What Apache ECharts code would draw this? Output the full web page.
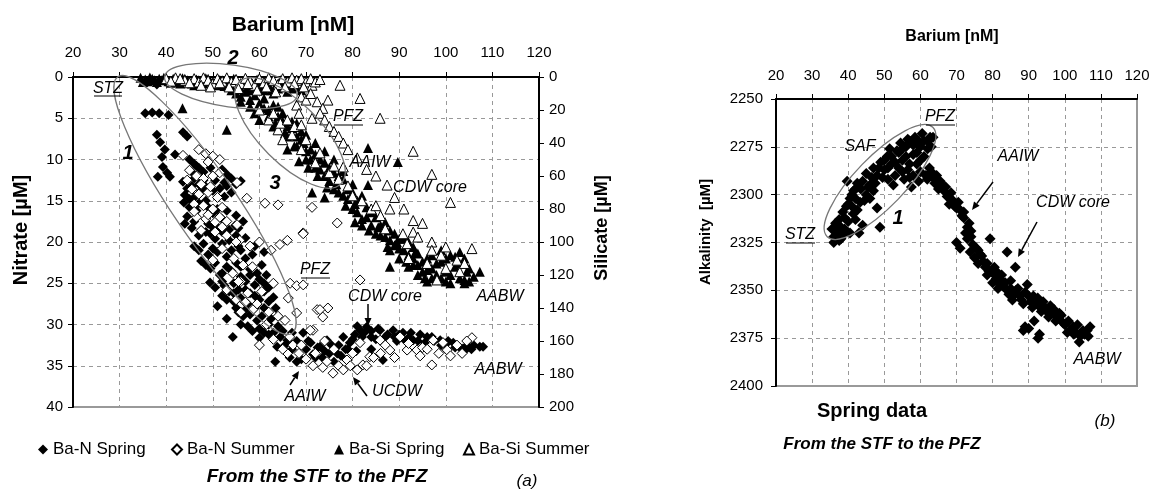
<!DOCTYPE html>
<html><head><meta charset="utf-8">
<script src="https://cdn.jsdelivr.net/npm/echarts@6/dist/echarts.min.js"></script>
<style>html,body{margin:0;padding:0;background:#fff}#c{width:1154px;height:491px}</style>
</head><body><div id="c"></div>
<script>
// ---------- DATA ----------
const baTicks = [20,30,40,50,60,70,80,90,100,110,120];
const seriesNames = ['Ba-N Spring','Ba-N Summer','Ba-Si Spring','Ba-Si Summer'];
// [Barium nM, Nitrate µM]
const baNSpring = [
[36,0.6],[38,0.9],[40,0.5],
[35.5,4.4],[37,4.3],[38.5,4.4],[40.5,4.6],
[43.6,6.7],[44.5,7.2],[38,7.0],[38.7,7.9],[39.7,8.8],[41.9,9.4],[39.1,9.7],[39.3,10.9],[40.2,11.6],[38.2,12.1],[40.8,12.1],
[45,10],[46,10.5],[47,11],[45.5,11.5],[52,11.2],[53,11.8],[54,12.3],[52.5,12.8],[43.6,12.7],[44.5,13.5],[45.5,13.2],[44,14.3],[46,14.6],[43.8,15.2],[45,15.8],[46.5,16.2],[44.5,16.9],[46,17.5],[47.5,13.8],[48.5,15],[50,16.5],[49,17.8],[51,18.2],[52,18.8],[53.5,18.5],[55,19.2],[49.5,19],[50.5,19.6],[54.8,18],[47.5,18.6],[56,12.6],[48,12.5],
[46.5,10.8],[48,11.5],[49.5,11],[50.5,12.5],[51.5,13.5],[53,13.2],[55,13],[46,12.3],[47,13],[48.5,13.3],[50,13.8],[52.5,14.5],[54,14],[45,14.8],[47,15.3],[49,15.8],[51,16],[53,16.2],[55,16.8],[56.5,17.5],[44,17.8],[45.5,18.3],[47,19.2],[48.5,18.8],[50,18.2],[52,17.2],[53.5,19.8],[55.5,18.3],[57,19.5],
[46,20.5],[48,20.2],[50,20.8],[52,20.2],[54,21],[55.5,20.5],[47.5,22.3],[49.5,23.2],[49.4,24.9],[51.5,24],[52.5,25.3],[53.5,26],[54.5,27.2],[55.5,28.5],[52,26.5],[51,27.8],[53,29.3],[56,24.2],[58,24],[60,24.5],[62,25.5],[57,25.8],[59,26.5],[61,26],[63,26.7],[57.5,27.5],[56.5,29],[58,28.8],[59.5,29.5],[61,28],[62.5,29.3],[64,30.2],[60,30.5],[57.5,30.2],[54.3,31.5],[60,31.6],[63.8,32.7],[63.4,34.5],[66,31.9],[62,31.2],[65,30.8],[55,22.5],[57,22],[53,23],[60.5,22.8],[58.5,21.5],
[47,21],[49,21.5],[51,21.2],[53,21.8],[56,21],[59,20.5],[61,21.2],[48.5,22.8],[50.5,22.5],[52,23.8],[54,23.5],[56,23],[58,23.3],[59.5,23.8],[61.5,24],[50.5,25.5],[52,24.8],[54.5,25],[55.5,25.8],[57,24.8],[59,25.2],[61,25],[53,27],[54.5,26.2],[56,26.8],[58,26.2],[60,27],[62,27.2],[63.5,28],[55,28],[57,28.2],[59,28],[60.5,29],[62,30],[63,31],[64.5,31.5],[61,31],[65.5,32.5],[58.5,30.8],[56,30],[67,33],[68,34.5],[66.5,34],
[67,31],[68,32],[69.4,31],[70,33],[71,32.2],[72,34],[73,32.7],[74.5,31.9],[75,33.5],[76.7,33.5],[77,32.5],[78,31.5],[79.4,32.2],[80.5,31.2],[81.6,30.7],[83,30.3],[84,30.8],[85.9,30.7],[86.5,34.3],[87.5,31.2],[88.7,30.7],[90,31.2],[90.8,31],[92,31.6],[93,31.9],[94.5,31.2],[96,31.5],[97.5,32],[98.8,31.9],[100,32.4],[101.6,32.2],[103,32.8],[103.7,32.9],[104.6,32.5],[105.5,33],[107.3,32.7],[69,34.2],[71.5,33.6],[82,31.5],[78.5,33],[85,31.8],[89.5,32],
[70.5,32],[72.5,32.8],[74,33.2],[75.5,32.5],[77.5,33.8],[79,33],[80,31.8],[81,30.2],[82.5,31],[84,31.5],[85.5,30.5],[87,31.5],[89,31.5],[91,31.8],[92.5,31],[94,32],[95.5,32.2],[97,31.5],[99,32.5],[100.5,32],[102,32.8],[104,33.2],[106,32.5],[108,32.7],[73.5,34],[76,34.5],[80.8,33.2],[84,33]
];
const baNSummer = [
[43.6,9.5],[47,8.8],[48.5,9.3],[50,9.6],[51.5,10],[49,10.3],
[45,11.3],[46.5,12],[48,12.3],[50,12],[51.5,11.6],[45.5,13.6],[47,14.2],[49,14],[51,14.6],[46,15.4],[48,15.6],[50,16],[52,15.8],[46.5,17],[48.5,17.2],[50.5,17.6],[52,18.2],[47.5,18.6],
[55.2,12.8],[57.3,14.7],[61.2,15.3],[64,15.5],[71.3,15.8],[76.7,17.7],[69.4,18.9],[55.2,17.9],
[50,22.2],[55.8,19.8],[58,20.5],[60,20],[62.5,21],[64.4,20.3],[66,19.8],[69.4,19],[63,25],[66.6,25],[68,25.3],[69.4,25.2],[66.2,26.8],[72.4,28.2],[74.7,28],[73.6,29.1],[54.3,23.8],[56,24.8],[57.5,26.2],[55,27],[58.6,28.2],[56,28.5],[68,28.6],[71.5,30.7],
[67.2,32.5],[68.5,33.5],[70,34.2],[71.5,35],[73.6,35.2],[75.8,35.9],[74.5,34.5],[66,33.5],
[73,28.2],[81.6,24.6],[70.9,30.7],[78.8,34.3],[81.6,32.2],[82.2,34.9],[83.7,33.9],[85.9,31.9],[88,33.1],[90.2,31.5],[91.7,33.1],[93.8,33.1],[97,34.9],[97.3,31.9],[100.3,33.1],[102.4,32.5],[105.6,31.6],[99.4,32.2],[77,35],[80,33.5],[87,32.5],[95,32.8],
[66.5,31.5],[69,32.5],[72,33.5],[74,32],[76,33],[78,35.5],[79.5,35],[81,35.5],[83,35],[84.5,34],[86,33.5],[89,34],[92,32.3],[94.5,33.8],[96,33],[98.5,33.5],[101,33.8],[103.5,33.5],[104.5,32],
[44.5,12.5],[47.5,13],[49.5,13.3],[46,16.3],[49,16.7],[51.5,17],[53,17.5],[50.5,18.8],[53,19.2],[55,20],[52,20.8],[54.5,22],[56.5,22.8],[58.5,23],[55.5,24.8],[53,25.8],[57,27.3],[59.5,27.5],[60.5,26],[62,28.5],[61.5,30],[64,29],[65.5,29.5],[63,31.8],[65,33],[60,32.5]
];
// [Barium nM, Silicate µM]
const baSiSpring = [
[34.5,0.5],[35.5,1.5],[36.5,0.3],[37.5,2],[38.5,1],[39.5,0.4],[40.5,2.5],[41.5,1],[42.5,3],[43.5,0.8],[44.5,2],[45.5,4],[46.5,1.5],[47.5,3.5],[48.5,0.8],[49.5,2.8],[50.5,4.5],[51.5,1.8],[52.5,5.5],[53.5,3],[54.5,1],[55.5,5],[56.5,2.5],[57.5,6.5],[58.5,4],[59.5,1.5],[60.5,6],[61.5,3],[62.5,8],[63.5,5],[64.5,2],[66,4],[67,7],[43.5,19],[53,32],
[35,3],[36,2.5],[37,1],[38,3],[39,2],[40,1],[41,3.5],[42,2],[43,4],[44,1],[45,3],[46,5],[47,2],[48,4],[49,1],[50,3],[51,5],[52,2],[53,4.5],[54,6],[55,3],[56,7],[57,4],[58,8],[59,6],[60,3],[61,8],[62,5],[63,10],[64,7],[65,5],[66,9],[67,3],[68,6],[69,8],
[54,8],[55,10],[56,12],[57,9],[58,14],[59,11],[60,16],[61,13],[62,20],[63,17],[64,24],[63.5,28],[65,22],[66,30],[65.5,34],[67,27],[68,36],[67.5,42],[69,33],[70,45],[69.5,40],[71,50],[70.5,55],[72,47],[73,56],[72.5,60],[74,52],[75,63],[74.5,67],[76,58],[77,70],[76.5,65],[78,62],[79,74],[78.5,78],[80,70],[81,82],[80.5,77],[82,86],[83,79],[84,90],[83.5,93],[85,85],[86,96],[85.5,91],[87,88],[88,99],[87.5,103],[89,95],[90,104],[89.5,100],[91,98],[92,108],[91.5,112],[93,103],[94,114],[93.5,106],[95,118],[96,110],[95.5,122],[97,116],[98,120],[99,112],[100,118],[101,108],[102,115],[103,122],[104,110],[105,124],[104.5,118],[107.3,118],[88,115],[93,114],[83.3,43],[89.7,51.5],[83.3,65.5],[71.3,70],[66,44],[68.5,51],[74,73],[80.5,88],
[56,15],[58,18],[59,22],[60,26],[61,19],[62,24],[63,30],[64,18],[65,27],[66,36],[67,31],[68,28],[68,42],[69,38],[70,35],[70,50],[71,44],[72,40],[72,55],[73,50],[74,45],[74,60],[75,55],[76,50],[76,68],[77,60],[78,57],[78,72],[79,68],[80,65],[80,80],[81,75],[82,72],[82,90],[83,85],[84,82],[85,95],[86,90],[87,97],[88,93],[88,105],[89,102],[90,98],[90,110],[91,105],[92,100],[92,115],[93,110],[94,107],[94,120],[95,112],[96,117],[96,124],[97,108],[98,113],[99,122],[100,110],[100,124],[101,120],[102,109],[103,113],[104,123],[105,116],[106,121],[103,106],[99,105],[97,122],[101,125],[104,125]
];
const baSiSummer = [
[40,1],[42,0.5],[44,2],[46,1],[47,3],[48,0.5],[49,2],[50,4],[51,1],[52,2.5],[53,0.5],[54,3],[55,1.5],[56,4],[57,0.8],[58,2.5],[59,5],[60,1],[61,3.5],[62,0.5],[63,2],[64,4.5],[65,1],[66,3],[67,0.5],[68,2],[69,1],[70,3],[71.3,5],[77.3,5],[72.4,15],[74.7,14],[73.6,19],[81.6,13],[85.9,25],[71.3,25],[68,17],[68.5,22],[93,45],[97,59],[101,76],[87.4,65.5],[78,54.5],
[60,20],[62,26],[64,32],[65,38],[67,35],[69,44],[70,38],[72,52],[73,46],[75,58],[76,54],[77,62],[79,66],[80,72],[82,75],[84,80],[86,84],[87,92],[90.8,95],[91.7,101],[93,87],[95,88.7],[97,100],[98.1,123],[102.4,111],[105.6,104],[100,116],[92,110],[96,113],[103,118],[88,80],[85,78],
[41,2.5],[43,1],[45,3.5],[47.5,5],[49.5,6],[51.5,3.5],[53.5,6],[55.5,7],[57.5,4],[59.5,8],[61.5,6],[63.5,9],[65.5,6],[67.5,4],[69.5,6],[71,1],[72,3],[73,1.5],[69,12],[70,14],[71,10],[73,22],[74,26],[75,30],[76,33],[77,36],[78,40],[79,44],[81,49],[83,56],[85,60],[89,73],[91,80],[93,94],[94,97],[97,105],[99,108],[100,103],[104,113],
[63,22],[64.5,28],[66,26],[67.5,30],[69,29]
];
// [Barium nM, Alkalinity µM]  (spring data, panel b)
const baAlkSpring = [
[35.5,2318],[36,2322],[37,2320],[37.5,2324],[38,2317],[36.5,2315],[38.5,2321],[39.7,2293],[41,2300],[40,2305],[42,2297],[41.4,2310],[43.3,2304],[44,2316],[45,2300],[48,2307],[48.8,2317],[39,2312],[40.5,2320],[42.5,2308],[44,2293],[45,2289],[46,2295],[47,2286],[48,2290],[49,2283],[50,2287],[50.8,2280],[51.5,2276],[52,2284],[53,2290],[54,2278],[54.5,2273],[55,2282],[56,2275],[56.5,2287],[57,2272],[58,2279],[58.5,2270],[59,2284],[60,2275],[60.5,2268],[61,2280],[61.5,2290],[62,2272],[62.7,2270],[63.5,2270],[59.5,2293],[57.5,2296],[55.5,2292],[52.5,2295],[51,2292],
[36,2325],[37,2317],[38,2323],[39,2318],[37.5,2313],[38.5,2309],[39.5,2306],[40.5,2302],[41.5,2298],[42.5,2294],[43.5,2297],[44.5,2303],[42,2302],[41,2306],[40,2314],[42,2313],[43,2320],[46,2302],[47,2298],[45.5,2296],[46.5,2291],[47.5,2294],[48.5,2286],[49.5,2291],[50,2282],[51,2286],[52,2280],[53,2283],[53.5,2277],[54,2286],[55,2276],[56,2280],[56.5,2271],[57,2284],[58,2274],[59,2278],[59.5,2272],[60,2282],[61,2272],[62,2276],[63,2275],[60,2288],[58,2290],[57,2291],[55,2288],
[61.9,2292],[63,2288],[64,2294],[65,2297],[66,2295],[67.4,2301],[68,2305],[69,2303],[70,2307],[71,2308],[72,2312],[73,2317],[72.5,2320],[70,2325],[71,2328],[73.8,2330],[74.5,2326],[75,2333],[76,2336],[77,2332],[78,2338],[79.3,2323],[78.5,2342],[80,2341],[80,2346],[81,2340],[82,2344],[83,2348],[84,2330],[84,2350],[85,2345],[86.3,2338],[86,2352],[87,2349],[88,2355],[88.5,2371],[89.6,2347],[90,2353],[91.3,2353],[92,2357],[92.6,2375],[93.2,2359],[94,2356],[95,2361],[96,2358],[96.8,2362],[98,2365],[99,2363],[100,2368],[100.7,2372],[101,2366],[102.3,2369],[103,2372],[104.3,2374],[105,2371],[106.2,2371],[107,2369],[90,2370],[76,2329],[81.5,2349],
[62.5,2286],[63.5,2291],[64.5,2290],[65.5,2293],[66.5,2298],[67,2296],[68.5,2299],[69.5,2306],[70.5,2304],[71.5,2311],[72,2309],[73.5,2315],[74,2319],[74,2322],[73,2323],[75.5,2328],[76.5,2331],[77.5,2335],[78.5,2336],[79,2340],[80.5,2338],[81,2344],[82,2347],[82.5,2342],[83.5,2346],[84.5,2352],[85,2349],[85.5,2355],[86.5,2350],[87.5,2353],[88.5,2357],[89,2351],[90.5,2356],[91,2359],[92.5,2354],[93.5,2361],[94.5,2359],[95.5,2364],[96,2362],[97,2360],[97.5,2366],[98.5,2362],[99.5,2367],[101.5,2371],[102.5,2373],[103.5,2368],[104,2377],[105.5,2373],[106.5,2374],[93,2373],[89,2369],[91.5,2366]
];

// ---------- CHART ----------
const FONT = '"Liberation Sans", Arial, sans-serif';
const chart = echarts.init(document.getElementById('c'), null, {renderer:'canvas'});
const gridLine = {show:true, lineStyle:{color:'#999', type:[4,4], width:1}};
const blackAxis = {show:true, lineStyle:{color:'#000', width:2}};
const tick = {show:true, length:5, lineStyle:{color:'#000'}};
const lbl = (size)=>({color:'#000', fontSize:size, fontFamily:FONT});

function sc(name, data, x, y, symbol, filled, size){
  return {name, type:'scatter', xAxisIndex:x, yAxisIndex:y, data, symbol, symbolSize:size,
    itemStyle: filled ? {color:'#000', opacity:1} : {color:'#fff', borderColor:'#000', borderWidth:1, opacity:1},
    emphasis:{disabled:true}, silent:true, animation:false};
}

const legendLefts = [33, 166, 329, 458];
const option = {
  animation:false,
  grid:[
    {left:73, top:77, width:466, height:330, show:true, borderColor:'#999', borderWidth:2},
    {left:776, top:99, width:361, height:287, show:true, borderColor:'#999', borderWidth:2}
  ],
  xAxis:[
    {gridIndex:0, type:'value', position:'top', min:20, max:120, interval:10,
     axisLine:blackAxis, axisTick:tick, splitLine:gridLine, axisLabel:{...lbl(15), margin:17}},
    {gridIndex:1, type:'value', position:'top', min:20, max:120, interval:10,
     axisLine:blackAxis, axisTick:tick, splitLine:gridLine, axisLabel:{...lbl(15), margin:16}}
  ],
  yAxis:[
    {gridIndex:0, type:'value', inverse:true, min:0, max:40, interval:5, position:'left',
     axisLine:blackAxis, axisTick:tick, splitLine:gridLine, axisLabel:{...lbl(15), margin:10}},
    {gridIndex:0, type:'value', inverse:true, min:0, max:200, interval:20, position:'right',
     axisLine:blackAxis, axisTick:tick, splitLine:{show:false}, axisLabel:{...lbl(15), margin:10}},
    {gridIndex:1, type:'value', inverse:true, min:2250, max:2400, interval:25, position:'left',
     axisLine:blackAxis, axisTick:tick, splitLine:gridLine, axisLabel:{...lbl(15), margin:13, formatter:(v)=>String(v)}}
  ],
  legend: seriesNames.map((n,i)=>({data:[n], left:legendLefts[i], top:436, itemWidth:10, itemHeight:10, itemGap:6,
     textStyle:{...lbl(17)}, selectedMode:false})),
  series:[
    sc(seriesNames[0], baNSpring, 0, 0, 'diamond', true, 10),
    sc(seriesNames[1], baNSummer, 0, 0, 'diamond', false, 10),
    sc(seriesNames[2], baSiSpring, 0, 1, 'triangle', true, 10),
    sc(seriesNames[3], baSiSummer, 0, 1, 'triangle', false, 10),
    sc('Ba-Alk Spring', baAlkSpring, 1, 2, 'diamond', true, 11)
  ]
};
chart.setOption(option);

// ---------- ANNOTATIONS ----------
const deg = Math.PI/180;
const ell = (x,y,rx,ry,rot)=>({type:'ellipse', x, y, rotation:rot*deg, silent:true, z:50,
   shape:{cx:0, cy:0, rx, ry}, style:{fill:null, stroke:'#777', lineWidth:1.3}});
const txt = (x,y,t,font,extra)=>Object.assign({type:'text', x, y, silent:true, z:60,
   style:{text:t, font:font, fill:'#000', align:'center', verticalAlign:'middle'}}, extra||{});
const ln = (x1,y1,x2,y2,c,w)=>({type:'line', silent:true, z:60, shape:{x1,y1,x2,y2}, style:{stroke:c||'#000', lineWidth:w||1}});
function arrow(x1,y1,x2,y2){
  const a = Math.atan2(y2-y1, x2-x1), L=8, W=3.5;
  const bx = x2 - L*Math.cos(a), by = y2 - L*Math.sin(a);
  return [ln(x1,y1,bx,by,'#000',1.5),
    {type:'polygon', silent:true, z:60, shape:{points:[[x2,y2],[bx - W*Math.sin(a), by + W*Math.cos(a)],[bx + W*Math.sin(a), by - W*Math.cos(a)]]}, style:{fill:'#000'}}];
}
const I16 = 'italic 16px ' + FONT;
const BI = (s)=>'italic bold ' + s + 'px ' + FONT;
const B = (s)=>'bold ' + s + 'px ' + FONT;

const g = [
  // panel a
  ell(205,205,155,32,-55.8), ell(231,86,67,21,-8), ell(290,133,72,30,-45),
  txt(293,25,'Barium [nM]',B(21)),
  txt(21,230,'Nitrate [µM]',B(20),{rotation:90*deg}),
  txt(602,228,'Silicate [µM]',B(18),{rotation:90*deg}),
  txt(108,89,'STZ',I16), ln(94,96,122,96),
  txt(128,153,'1',BI(20)), txt(233,58,'2',BI(20)), txt(275,183,'3',BI(20)),
  txt(348,117,'PFZ',I16), ln(334,125,363,125),
  txt(370,163,'AAIW',I16),
  txt(430,188,'CDW core',I16),
  txt(315,270,'PFZ',I16), ln(301,278,330,278),
  txt(385,297,'CDW core',I16),
  ...arrow(368,304,368,326),
  txt(500,297,'AABW',I16), txt(498,370,'AABW',I16),
  txt(305,397,'AAIW',I16), ...arrow(290,385,299,371),
  txt(397,392,'UCDW',I16), ...arrow(367,396,353,377),
  txt(317,477,'From the STF to the PFZ',BI(19)),
  txt(527,481,'(a)','italic 17px ' + FONT),
  // panel b
  ell(880,182,76,25,46),
  txt(952,37,'Barium [nM]',B(16)),
  txt(706,232,'Alkalinity  [µM]',B(15),{rotation:90*deg}),
  txt(940,117,'PFZ',I16), ln(926,125,955,125),
  txt(860,147,'SAF',I16),
  txt(898,218,'1',BI(20)),
  txt(800,235,'STZ',I16), ln(786,243,815,243),
  txt(1018,157,'AAIW',I16), ...arrow(993,182,972,210),
  txt(1073,203,'CDW core',I16), ...arrow(1037,222,1018,257),
  txt(1097,360,'AABW',I16),
  txt(872,411,'Spring data',B(20)),
  txt(882,444,'From the STF to the PFZ',BI(17)),
  txt(1105,421,'(b)','italic 17px ' + FONT)
];
chart.setOption({graphic:{elements:g}});
</script></body></html>
